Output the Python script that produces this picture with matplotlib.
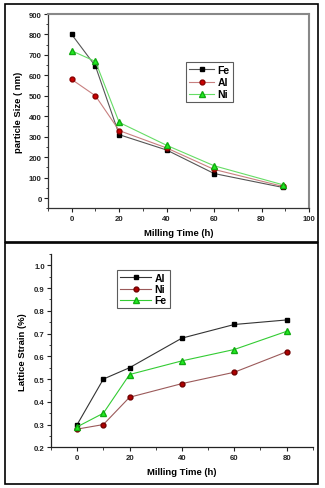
import matplotlib
matplotlib.use("Agg")
import matplotlib.pyplot as plt
from matplotlib.patches import Rectangle
from matplotlib.ticker import MultipleLocator, FormatStrFormatter

plt.rcParams['font.family'] = ['Liberation Sans', 'DejaVu Sans']
plt.rcParams['font.weight'] = 'bold'

# Top panel data
time_top = [0, 10, 20, 40, 60, 89]
size_fe = [800, 645, 310, 235, 120, 52]
size_al = [580, 500, 330, 245, 140, 57]
size_ni = [720, 668, 370, 258, 158, 65]

# Bottom panel data
time_bot = [0, 10, 20, 40, 60, 80]
strain_al = [0.30, 0.50, 0.55, 0.68, 0.74, 0.76]
strain_ni = [0.28, 0.30, 0.42, 0.48, 0.53, 0.62]
strain_fe = [0.29, 0.35, 0.52, 0.58, 0.63, 0.71]

W, H = 325, 489
fig = plt.figure(figsize=(W/100, H/100), dpi=100)

def fx(px): return px / W
def fy(py): return 1 - py / H

# outer boxes
fig.patches.append(Rectangle((fx(4.5), fy(243)), fx(317.5) - fx(4.5), fy(4.5) - fy(243),
                             transform=fig.transFigure, fill=False, ec='black', lw=1.2))
fig.patches.append(Rectangle((fx(4.5), fy(484.5)), fx(317.5) - fx(4.5), fy(244) - fy(484.5),
                             transform=fig.transFigure, fill=False, ec='black', lw=1.2))

tick_fs = 5.6
lab_fs = 6.8
leg_fs = 7.5

def style_ticks(ax):
    ax.tick_params(which='major', direction='out', length=3, width=0.8, labelsize=tick_fs, pad=1.5, colors='#222222')
    ax.tick_params(which='minor', direction='out', length=1.8, width=0.6, colors='#222222')

# ---- Top axes
ax1 = fig.add_axes([fx(48), fy(209.3), fx(309) - fx(48), fy(15) - fy(209.3)])
ax1.plot(time_top, size_fe, color='#555555', lw=0.8, marker='s', ms=3.2, mfc='black', mec='black', label='Fe')
ax1.plot(time_top, size_al, color='#c88080', lw=0.8, marker='o', ms=3.5, mfc='#cc0000', mec='#880000', label='Al')
ax1.plot(time_top, size_ni, color='#66dd66', lw=0.8, marker='^', ms=3.8, mfc='#22ee22', mec='#11aa11', label='Ni')
ax1.set_xlim(-10, 100)
ax1.set_ylim(-50, 900)
ax1.xaxis.set_major_locator(MultipleLocator(20))
ax1.xaxis.set_minor_locator(MultipleLocator(10))
ax1.yaxis.set_major_locator(MultipleLocator(100))
ax1.yaxis.set_minor_locator(MultipleLocator(50))
style_ticks(ax1)
for s in ['left', 'bottom']:
    ax1.spines[s].set_color('#333333')
    ax1.spines[s].set_linewidth(0.9)
for s in ['top', 'right']:
    ax1.spines[s].set_color('#888888')
    ax1.spines[s].set_linewidth(1.5)
ax1.set_xlabel('Milling Time (h)', fontsize=lab_fs, fontweight='bold', labelpad=4.5)
ax1.set_ylabel('particle Size ( nm)', fontsize=lab_fs, fontweight='bold', labelpad=4)
leg1 = ax1.legend(loc='upper left', bbox_to_anchor=((186-48)/(309-48), (209.3-63)/(209.3-15)),
                  fontsize=leg_fs, frameon=True, fancybox=False, edgecolor='#333333',
                  handlelength=2.4, handletextpad=0.3, borderpad=0.3, labelspacing=0.2,
                  borderaxespad=0)
leg1.get_frame().set_linewidth(0.8)

# ---- Bottom axes
ax2 = fig.add_axes([fx(51), fy(448.3), fx(312.8) - fx(51), fy(255) - fy(448.3)])
ax2.plot(time_bot, strain_al, color='#333333', lw=0.8, marker='s', ms=3.2, mfc='black', mec='black', label='Al')
ax2.plot(time_bot, strain_ni, color='#9b5a5a', lw=0.8, marker='o', ms=3.5, mfc='#b00000', mec='#700000', label='Ni')
ax2.plot(time_bot, strain_fe, color='#33cc33', lw=0.8, marker='^', ms=3.8, mfc='#22ee22', mec='#11aa11', label='Fe')
ax2.set_xlim(-10, 90)
ax2.set_ylim(0.2, 1.05)
ax2.xaxis.set_major_locator(MultipleLocator(20))
ax2.xaxis.set_minor_locator(MultipleLocator(10))
ax2.yaxis.set_minor_locator(MultipleLocator(0.05))
ax2.set_yticks([0.2, 0.3, 0.4, 0.5, 0.6, 0.7, 0.8, 0.9, 1.0])
ax2.yaxis.set_major_formatter(FormatStrFormatter('%.1f'))
style_ticks(ax2)
ax2.spines['top'].set_visible(False)
ax2.spines['right'].set_visible(False)
for s in ['left', 'bottom']:
    ax2.spines[s].set_color('#222222')
    ax2.spines[s].set_linewidth(0.9)
ax2.set_xlabel('Milling Time (h)', fontsize=lab_fs, fontweight='bold', labelpad=5)
ax2.set_ylabel('Lattice Strain (%)', fontsize=lab_fs, fontweight='bold', labelpad=5)
leg2 = ax2.legend(loc='upper left', bbox_to_anchor=((117-51)/(312.8-51), (448.3-271)/(448.3-255)),
                  fontsize=leg_fs, frameon=True, fancybox=False, edgecolor='#333333',
                  handlelength=3.0, handletextpad=0.3, borderpad=0.3, labelspacing=0.1,
                  borderaxespad=0)
leg2.get_frame().set_linewidth(0.8)

fig.savefig('out.png', dpi=100)
